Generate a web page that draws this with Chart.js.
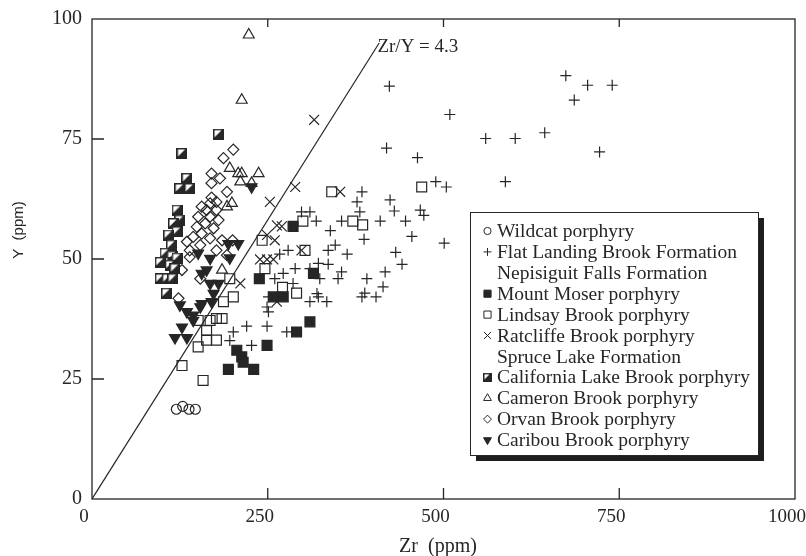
<!DOCTYPE html>
<html>
<head>
<meta charset="utf-8">
<script src="https://cdn.jsdelivr.net/npm/chart.js@4.4.0/dist/chart.umd.min.js"></script>
<style>
  html, body { margin: 0; padding: 0; background: #fff; }
  #wrap { width: 806px; height: 556px; }
</style>
</head>
<body>
<div id="wrap"><canvas id="zrY" width="806" height="556"></canvas></div>
<script>
// Zr (ppm) and Y (ppm) per unit
const wildcatZr = [120, 129, 138, 147];
const wildcatY  = [18.7, 19.3, 18.7, 18.7];

const flatLandingZr = [423, 674, 705, 740, 686, 509, 560, 602, 644, 419, 463, 722, 489, 504, 588,
  424, 430, 467, 472, 410, 446, 384, 377, 381, 298, 310, 319, 355, 339, 387, 346, 336, 279, 267,
  363, 260, 272, 289, 322, 336, 310, 324, 350, 355, 391, 417, 414, 286, 251, 249, 251, 320, 322,
  310, 334, 384, 388, 404, 277, 220, 249, 201, 227, 196, 455, 501, 432, 441];
const flatLandingY = [86.0, 88.2, 86.2, 86.2, 83.1, 80.1, 75.1, 75.1, 76.3, 73.1, 71.1, 72.3, 66.1, 65.0, 66.1,
  62.3, 60.0, 60.2, 59.1, 57.9, 57.9, 64.0, 61.9, 59.8, 59.8, 59.8, 57.9, 57.9, 55.9, 54.1, 52.9, 51.8, 51.8, 51.0,
  51.0, 45.9, 47.0, 48.0, 49.1, 48.9, 48.0, 45.9, 45.9, 47.3, 45.9, 47.3, 44.2, 44.9, 42.1, 40.0, 39.0, 42.8, 42.1,
  41.1, 41.1, 42.1, 42.9, 42.1, 34.8, 36.0, 36.0, 34.8, 32.0, 33.0, 54.7, 53.3, 51.4, 48.9];

const mountMoserZr = [286, 238, 315, 258, 272, 310, 291, 249, 206, 213, 215, 194, 230];
const mountMoserY  = [56.8, 45.9, 47.0, 42.1, 42.1, 36.9, 34.8, 32.0, 31.0, 29.6, 28.5, 27.0, 27.0];

const lindsayZr = [469, 341, 300, 371, 385, 242, 303, 246, 271, 291, 201, 177, 168, 185, 151, 163, 151,
  163, 177, 187, 196, 128, 158];
const lindsayY  = [65.0, 64.0, 57.9, 57.9, 57.1, 53.9, 51.8, 48.0, 44.1, 42.9, 42.1, 37.6, 37.2, 37.6, 37.2,
  35.1, 31.7, 33.1, 33.1, 41.1, 45.9, 27.8, 24.7];

const ratcliffeZr = [316, 289, 253, 353, 270, 249, 260, 298, 239, 249, 258, 263, 211, 263];
const ratcliffeY  = [79.0, 65.0, 61.9, 64.0, 56.8, 55.0, 53.9, 51.8, 49.9, 49.9, 49.9, 41.1, 44.9, 57.0];

const californiaZr = [180, 128, 135, 125, 139, 121, 125, 116, 121, 109, 113, 109, 104, 114, 121, 104,
  111, 118, 97, 97, 107, 115, 106];
const californiaY  = [76.0, 72.0, 66.8, 64.7, 64.7, 60.2, 58.1, 57.4, 55.7, 55.0, 52.9, 50.8, 51.2, 50.6,
  50.2, 49.3, 48.7, 48.0, 49.3, 45.9, 45.9, 45.9, 42.9];

const cameronZr = [223, 213, 196, 208, 213, 237, 211, 227, 199, 192, 185];
const cameronY  = [96.7, 83.1, 68.9, 67.8, 67.8, 67.8, 66.1, 65.8, 61.6, 60.9, 47.7];

const orvanZr = [201, 187, 170, 182, 170, 192, 170, 177, 168, 156, 163, 177, 151, 168, 180, 161, 149,
  173, 156, 144, 168, 185, 135, 154, 139, 177, 192, 123, 139, 128, 154, 200];
const orvanY  = [72.8, 71.0, 67.8, 66.8, 65.8, 64.0, 62.8, 61.9, 61.6, 60.9, 60.2, 60.2, 58.8, 58.8, 58.1,
  57.4, 56.7, 56.4, 55.3, 54.6, 54.3, 53.9, 53.6, 52.9, 51.8, 51.8, 50.8, 41.8, 50.4, 47.7, 45.9, 53.9];

const caribouZr = [227, 194, 208, 151, 196, 168, 156, 180, 168, 173, 135, 154, 125, 144, 156, 170, 128,
  118, 135, 144, 163];
const caribouY  = [65.0, 53.2, 53.2, 51.2, 50.2, 50.1, 47.0, 44.9, 44.9, 42.8, 39.0, 40.0, 40.4, 38.3,
  40.7, 41.1, 35.8, 33.6, 33.6, 37.2, 47.7];

// reference line Zr/Y
const zrYRatio = 4.3;
const ratioLineTopY = 95;

const xTicks = [0, 250, 500, 750, 1000];
const yTicks = [0, 25, 50, 75, 100];

const INK = '#262626';
const SERIF = '"Liberation Serif", "DejaVu Serif", serif';

function pts(xs, ys) {
  return xs.map((x, i) => ({ x: x, y: ys[i] }));
}

// black square with a white upper-left half
function halfBox(size) {
  const c = document.createElement('canvas');
  c.width = size; c.height = size;
  const g = c.getContext('2d');
  g.fillStyle = INK;
  g.fillRect(0, 0, size, size);
  g.fillStyle = '#fff';
  g.beginPath();
  g.moveTo(1.5, 1.5);
  g.lineTo(size - 2.5, 1.5);
  g.lineTo(1.5, size - 2.5);
  g.closePath();
  g.fill();
  return c;
}
const halfBoxBig = halfBox(11);
const halfBoxSmall = halfBox(9);

const open = 'rgba(0,0,0,0)';

const series = [
  { label: 'Wildcat porphyry', zr: wildcatZr, y: wildcatY, style: 'circle', r: 5, fill: open, rot: 0 },
  { label: 'Flat Landing Brook Formation', zr: flatLandingZr, y: flatLandingY, style: 'cross', r: 5.5, fill: open, rot: 0 },
  { label: 'Mount Moser porphyry', zr: mountMoserZr, y: mountMoserY, style: 'rect', r: 7, fill: INK, rot: 0 },
  { label: 'Lindsay Brook porphyry', zr: lindsayZr, y: lindsayY, style: 'rect', r: 7, fill: open, rot: 0 },
  { label: 'Ratcliffe Brook porphyry', zr: ratcliffeZr, y: ratcliffeY, style: 'crossRot', r: 7, fill: open, rot: 0 },
  { label: 'California Lake Brook porphyry', zr: californiaZr, y: californiaY, style: halfBoxBig, r: 6, fill: INK, rot: 0 },
  { label: 'Cameron Brook porphyry', zr: cameronZr, y: cameronY, style: 'triangle', r: 6.3, fill: open, rot: 0 },
  { label: 'Orvan Brook porphyry', zr: orvanZr, y: orvanY, style: 'rectRot', r: 5.5, fill: open, rot: 0 },
  { label: 'Caribou Brook porphyry', zr: caribouZr, y: caribouY, style: 'triangle', r: 6.3, fill: INK, rot: 180 }
];

const datasets = series.map(s => ({
  label: s.label,
  data: pts(s.zr, s.y),
  pointStyle: s.style,
  pointRadius: s.r,
  pointRotation: s.rot,
  pointBackgroundColor: s.fill,
  pointBorderColor: INK,
  pointBorderWidth: 1.2,
  showLine: false
}));

datasets.push({
  label: 'Zr/Y = ' + zrYRatio,
  data: [{ x: 0, y: 0 }, { x: zrYRatio * ratioLineTopY, y: ratioLineTopY }],
  showLine: true,
  borderColor: INK,
  borderWidth: 1.2,
  pointRadius: 0
});

// legend rows; null style marks a formation heading
const legendRows = [
  { text: 'Wildcat porphyry', s: 0 },
  { text: 'Flat Landing Brook Formation', s: 1 },
  { text: 'Nepisiguit Falls Formation', s: null },
  { text: 'Mount Moser porphyry', s: 2 },
  { text: 'Lindsay Brook porphyry', s: 3 },
  { text: 'Ratcliffe Brook porphyry', s: 4 },
  { text: 'Spruce Lake Formation', s: null },
  { text: 'California Lake Brook porphyry', s: 5 },
  { text: 'Cameron Brook porphyry', s: 6 },
  { text: 'Orvan Brook porphyry', s: 7 },
  { text: 'Caribou Brook porphyry', s: 8 }
];

const framePlugin = {
  id: 'framePlugin',
  afterDatasetsDraw(chart) {
    const { ctx, chartArea: a, scales: { x, y } } = chart;
    ctx.save();
    ctx.strokeStyle = INK;
    ctx.lineWidth = 1.3;
    ctx.strokeRect(a.left, a.top, a.right - a.left, a.bottom - a.top);

    // inward tick marks
    ctx.beginPath();
    xTicks.slice(1, -1).forEach(v => {
      const px = x.getPixelForValue(v);
      ctx.moveTo(px, a.bottom); ctx.lineTo(px, a.bottom - 11);
      ctx.moveTo(px, a.top); ctx.lineTo(px, a.top + 8);
    });
    yTicks.slice(1, -1).forEach(v => {
      const py = y.getPixelForValue(v);
      ctx.moveTo(a.left, py); ctx.lineTo(a.left + 12, py);
    });
    ctx.stroke();

    // ratio label at the top of the line
    ctx.fillStyle = INK;
    ctx.font = '19px ' + SERIF;
    ctx.textBaseline = 'middle';
    ctx.textAlign = 'left';
    ctx.fillText('Zr/Y = ' + zrYRatio, x.getPixelForValue(406), y.getPixelForValue(94.2));

    // axis titles
    ctx.textAlign = 'center';
    ctx.font = '20px ' + SERIF;
    ctx.fillText('Zr  (ppm)', 438, 547);
    ctx.save();
    ctx.translate(19, 230);
    ctx.rotate(-Math.PI / 2);
    ctx.font = '15px "Liberation Sans", Arial, sans-serif';
    ctx.fillText('Y  (ppm)', 0, 0);
    ctx.restore();

    // legend box with drop shadow
    const bx = 470, by = 212, bw = 288, bh = 243;
    ctx.fillStyle = '#1e1e1e';
    ctx.fillRect(bx + 6, by + 6, bw, bh);
    ctx.fillStyle = '#fff';
    ctx.fillRect(bx, by, bw, bh);
    ctx.lineWidth = 1;
    ctx.strokeStyle = INK;
    ctx.strokeRect(bx + 0.5, by + 0.5, bw, bh);

    ctx.font = '19.5px ' + SERIF;
    ctx.textAlign = 'left';
    legendRows.forEach((row, i) => {
      const ry = by + 19 + i * 20.9;
      if (row.s !== null) {
        const s = series[row.s];
        ctx.fillStyle = s.fill;
        ctx.strokeStyle = INK;
        ctx.lineWidth = 1;
        Chart.helpers.drawPoint(ctx, {
          pointStyle: s.style === halfBoxBig ? halfBoxSmall : s.style,
          radius: s.r * 0.72,
          rotation: s.rot,
          borderWidth: 1
        }, 487.5, ry);
      }
      ctx.fillStyle = INK;
      ctx.fillText(row.text, 497, ry + 1);
    });
    ctx.restore();
  }
};

new Chart(document.getElementById('zrY').getContext('2d'), {
  type: 'scatter',
  data: { datasets: datasets },
  options: {
    responsive: false,
    animation: false,
    layout: { padding: { top: 19, right: 11, left: 0, bottom: 0 } },
    plugins: { legend: { display: false }, tooltip: { enabled: false } },
    scales: {
      x: {
        type: 'linear', min: 0, max: 1000,
        afterBuildTicks: s => { s.ticks = xTicks.map(v => ({ value: v })); },
        afterFit: s => { s.height = 57; s.paddingLeft = 0; s.paddingRight = 0; },
        grid: { display: false, drawTicks: false },
        border: { display: false },
        ticks: { color: INK, padding: 7, labelOffset: -8, font: { family: SERIF, size: 19 }, maxRotation: 0, callback: v => String(v) }
      },
      y: {
        type: 'linear', min: 0, max: 100,
        afterBuildTicks: s => { s.ticks = yTicks.map(v => ({ value: v })); },
        afterFit: s => { s.width = 92; s.paddingTop = 0; s.paddingBottom = 0; },
        grid: { display: false, drawTicks: false },
        border: { display: false },
        ticks: { color: INK, padding: 10, font: { family: SERIF, size: 20 }, callback: v => String(v) }
      }
    }
  },
  plugins: [framePlugin]
});
</script>
</body>
</html>
